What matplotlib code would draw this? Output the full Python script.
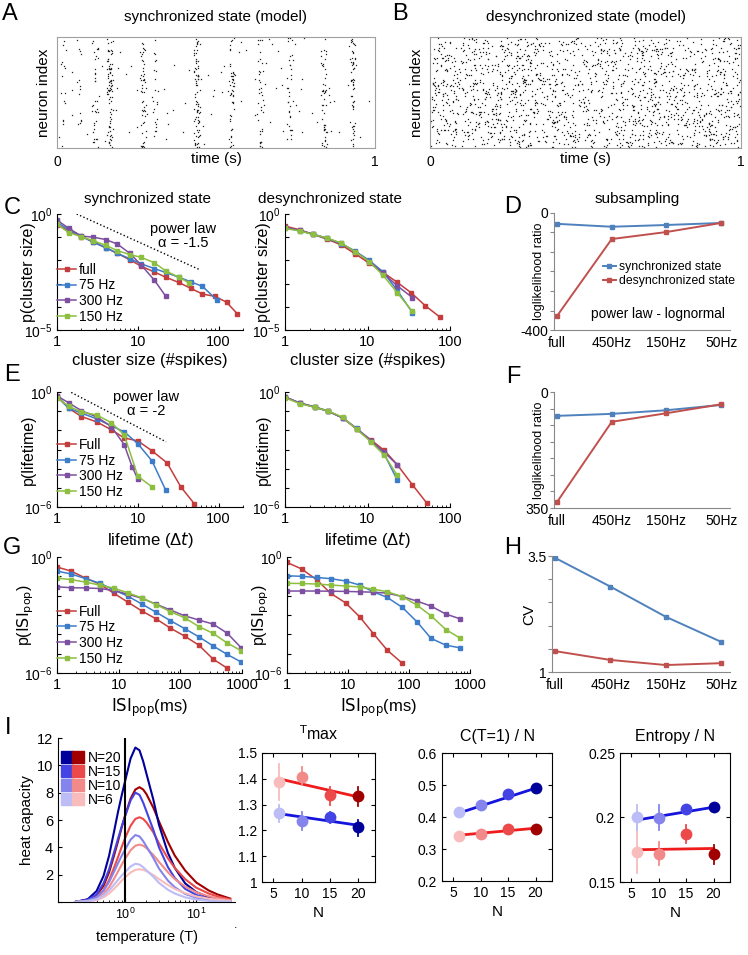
import numpy as np
import matplotlib
matplotlib.use("Agg")
import matplotlib.pyplot as plt
from matplotlib.lines import Line2D
from matplotlib.legend_handler import HandlerTuple
from matplotlib.ticker import FixedLocator, NullLocator

plt.rcParams['font.family'] = ['Liberation Sans', 'DejaVu Sans']
plt.rcParams['mathtext.default'] = 'regular'
plt.rcParams['font.size'] = 9
plt.rcParams['xtick.direction'] = 'in'
plt.rcParams['ytick.direction'] = 'in'

W, H = 748, 955

# ---------------- data ----------------
# raster (A): burst times (s) and approximate spike counts per burst
sync_burst_t = [0.02, 0.07, 0.12, 0.167, 0.27, 0.31, 0.44, 0.55, 0.64, 0.73, 0.84, 0.93]
sync_burst_n = [15, 12, 30, 80, 50, 20, 75, 45, 35, 30, 45, 55]
sync_background_n = 110
desync_n = 1700
n_neurons = 100

labels_ss = ["full", "75 Hz", "300 Hz", "150 Hz"]
labels_ss2 = ["Full", "75 Hz", "300 Hz", "150 Hz"]

# C: cluster size distributions, values as log10(p)
cs_x_full = [1, 1.4, 2, 2.8, 4, 5.6, 8, 11, 16, 22, 32, 45, 63, 90, 125, 170]
cs_lp_full = [-0.47, -0.72, -0.97, -1.2, -1.45, -1.7, -1.98, -2.25, -2.5, -2.72,
              -2.95, -3.2, -3.45, -3.55, -3.8, -4.3]
cs_x_75 = [1, 1.4, 2, 2.8, 4, 5.6, 8, 11, 16, 22, 32, 45, 63, 95]
cs_lp_75 = [-0.36, -0.68, -0.95, -1.22, -1.45, -1.7, -1.93, -2.15, -2.35, -2.52,
            -2.72, -2.92, -3.12, -3.7]
cs_x_300 = [1, 1.4, 2, 2.8, 4, 5.6, 8, 11, 16, 22]
cs_lp_300 = [-0.26, -0.62, -0.95, -1.0, -1.1, -1.3, -1.7, -2.2, -2.85, -3.53]
cs_x_150 = [1, 1.4, 2, 2.8, 4, 5.6, 8, 11, 16, 22, 32, 43]
cs_lp_150 = [-0.45, -0.8, -0.98, -1.15, -1.35, -1.58, -1.75, -1.87, -2.1, -2.45,
             -2.72, -2.97]

cd_x_full = [1, 1.5, 2.2, 3.2, 4.8, 7.1, 10.5, 15.5, 23, 34, 50, 76]
cd_lp_full = [-0.52, -0.68, -0.88, -1.08, -1.33, -1.72, -2.12, -2.52, -2.95, -3.4, -3.95, -4.45]
cd_x_sub = [1, 1.5, 2.2, 3.2, 4.8, 7.1, 10.5, 15.5, 23, 35]
cd_lp_75 = [-0.6, -0.72, -0.88, -1.05, -1.28, -1.6, -2.0, -2.5, -3.3, -4.25]
cd_lp_300 = [-0.58, -0.7, -0.87, -1.04, -1.27, -1.62, -2.05, -2.55, -3.1, -3.6]
cd_lp_150 = [-0.62, -0.73, -0.88, -1.03, -1.25, -1.62, -2.05, -2.65, -3.4, -4.2]

# E: lifetime distributions, log10(p)
el_x_full = [1, 1.4, 2, 3.1, 4.7, 6.8, 10, 15, 23, 34, 50]
el_lp_full = [-0.2, -0.85, -1.28, -1.56, -1.97, -2.4, -2.55, -3.07, -3.7, -4.95, -5.83]
el_x_75 = [1, 1.4, 2, 3.1, 4.7, 6.8, 10, 15, 22]
el_lp_75 = [-0.25, -0.85, -1.1, -1.4, -1.77, -2.08, -2.7, -3.6, -5.1]
el_x_300 = [1, 1.4, 2, 3.1, 4.7, 6.8, 8.5, 10]
el_lp_300 = [-0.2, -0.57, -0.97, -1.3, -1.8, -2.76, -3.9, -4.55]
el_x_150 = [1, 1.4, 2, 3.1, 4.7, 6.8, 10, 15]
el_lp_150 = [-0.3, -0.75, -1.04, -1.2, -1.6, -2.24, -4.4, -4.95]

er_x_full = [1, 1.5, 2.3, 3.3, 5, 7.4, 11, 16, 23, 35, 52]
er_lp_full = [-0.26, -0.57, -0.78, -0.99, -1.35, -1.93, -2.5, -3.05, -3.8, -4.84, -5.78]
er_x_sub = [1, 1.5, 2.3, 3.3, 5, 7.4, 11, 16, 23]
er_lp_75 = [-0.26, -0.57, -0.78, -0.99, -1.35, -1.9, -2.55, -3.25, -4.6]
er_lp_300 = [-0.26, -0.57, -0.8, -1.0, -1.35, -1.92, -2.55, -3.15, -3.8]
er_lp_150 = [-0.3, -0.6, -0.8, -0.98, -1.32, -1.95, -2.6, -3.3, -4.35]

# G: population ISI distributions, log10(p)
gl_x = [1, 1.7, 2.9, 4.9, 8.3, 14, 24, 41, 69, 117, 200, 340, 575, 980]
gl_lp_full = [-0.52, -0.73, -1.09, -1.4, -1.87, -2.33, -2.8, -3.21, -3.68, -4.09,
              -4.56, -5.28, -5.75]
gl_lp_75 = [-0.73, -0.88, -1.12, -1.35, -1.7, -2.02, -2.44, -2.87, -3.29, -3.7,
            -4.13, -4.6, -5.04, -5.44]
gl_lp_300 = [-1.54, -1.59, -1.6, -1.63, -1.73, -1.92, -2.14, -2.45, -2.74, -3.04,
             -3.26, -3.47, -3.94, -4.71]
gl_lp_150 = [-1.09, -1.17, -1.3, -1.45, -1.61, -1.85, -2.12, -2.47, -2.83, -3.14,
             -3.6, -3.95, -4.45, -4.85]

gr_x = [1, 1.74, 3.1, 5.2, 9.1, 15.5, 26, 44, 78, 135, 230, 400, 690]
gr_lp_full = [-0.28, -0.62, -1.19, -1.88, -2.37, -3.09, -3.96, -4.82, -5.5]
gr_lp_75 = [-0.97, -1.0, -1.06, -1.12, -1.24, -1.45, -1.8, -2.09, -2.61, -3.35,
            -4.21, -4.56, -4.7]
gr_lp_300 = [-1.76, -1.76, -1.76, -1.77, -1.78, -1.8, -1.82, -1.87, -2.05, -2.28,
             -2.54, -2.95, -3.2]
gr_lp_150 = [-1.36, -1.37, -1.4, -1.45, -1.5, -1.55, -1.66, -1.8, -2.05, -2.49,
             -3.04, -3.75, -4.2]

# D, F, H: subsampling
sub_labels = ["full", "450Hz", "150Hz", "50Hz"]
d_sync = [-37, -47, -41, -34]
d_desync = [-352, -89, -65, -34]
f_sync = [-72, -66, -55, -39]
f_desync = [-332, -90, -64, -37]
h_sync = [3.46, 2.84, 2.19, 1.65]
h_desync = [1.45, 1.26, 1.15, 1.19]

# I: heat capacity curves
temp = [0.2, 0.3, 0.4, 0.5, 0.6, 0.7, 0.8, 0.9, 1.0, 1.2, 1.4, 1.6, 1.8, 2.0,
        2.5, 3.0, 4.0, 5.0, 7.0, 10, 15, 20, 30]
hc_blue = {
    20: [0, 0.2, 0.8, 1.9, 3.4, 5.1, 6.6, 7.8, 8.8, 10.5, 11.3, 11.1, 10.3, 9.4,
         7.5, 5.65, 3.6, 2.5, 1.36, 0.73, 0.34, 0.2, 0.09],
    15: [0, 0.16, 0.56, 1.36, 2.4, 3.6, 4.64, 5.52, 6.24, 7.44, 8.0, 7.84, 7.28, 6.64,
         5.28, 4.0, 2.56, 1.76, 0.96, 0.52, 0.24, 0.14, 0.06],
    10: [0, 0.1, 0.34, 0.83, 1.47, 2.2, 2.84, 3.38, 3.82, 4.56, 4.9, 4.8, 4.46, 4.07,
         3.23, 2.45, 1.57, 1.08, 0.59, 0.32, 0.15, 0.09, 0.04],
    6: [0, 0.06, 0.2, 0.48, 0.84, 1.26, 1.62, 1.93, 2.18, 2.6, 2.8, 2.74, 2.55, 2.32,
        1.85, 1.4, 0.9, 0.62, 0.34, 0.18, 0.08, 0.05, 0.02],
}
hc_red = {
    20: [0, 0.17, 0.5, 1.18, 2.18, 3.36, 4.45, 5.46, 6.3, 7.56, 8.23, 8.4, 8.23, 7.9,
         6.9, 5.9, 4.4, 3.4, 2.3, 1.43, 0.84, 0.55, 0.25],
    15: [0, 0.12, 0.37, 0.87, 1.61, 2.48, 3.29, 4.03, 4.65, 5.58, 6.08, 6.2, 6.08, 5.83,
         5.1, 4.3, 3.2, 2.5, 1.67, 1.05, 0.62, 0.4, 0.19],
    10: [0, 0.08, 0.25, 0.59, 1.09, 1.68, 2.23, 2.73, 3.15, 3.78, 4.12, 4.2, 4.12, 3.95,
         3.44, 2.94, 2.18, 1.68, 1.13, 0.71, 0.42, 0.27, 0.13],
    6: [0, 0.05, 0.14, 0.34, 0.62, 0.96, 1.27, 1.56, 1.8, 2.16, 2.35, 2.4, 2.35, 2.26,
        1.97, 1.68, 1.25, 0.96, 0.65, 0.41, 0.24, 0.16, 0.07],
}

n_sizes = [6, 10, 15, 20]
tmax_red = [1.388, 1.407, 1.337, 1.333]
tmax_red_lo = [1.318, 1.376, 1.30, 1.295]
tmax_red_hi = [1.457, 1.446, 1.37, 1.37]
tmax_blue = [1.267, 1.236, 1.252, 1.213]
tmax_blue_lo = [1.232, 1.20, 1.23, 1.18]
tmax_blue_hi = [1.30, 1.27, 1.27, 1.24]
tmax_fit_red = [1.40, 1.33]
tmax_fit_blue = [1.265, 1.22]

c1_blue = [0.415, 0.437, 0.472, 0.49]
c1_red = [0.341, 0.347, 0.363, 0.363]
c1_fit_blue = [0.412, 0.49]
c1_fit_red = [0.343, 0.365]

ent_blue = [0.2, 0.1996, 0.2066, 0.208]
ent_blue_lo = [0.19, 0.19, 0.203, 0.205]
ent_blue_hi = [0.21, 0.21, 0.21, 0.211]
ent_red = [0.173, 0.172, 0.187, 0.172]
ent_red_lo = [0.157, 0.163, 0.18, 0.164]
ent_red_hi = [0.2, 0.181, 0.194, 0.179]
ent_fit_blue = [0.198, 0.208]
ent_fit_red = [0.175, 0.176]

# ---------------- styles ----------------
c_red = "#c43c3c"
c_blue = "#3d7cc9"
c_purple = "#7d4fa0"
c_green = "#8cbf3f"
x_blue = "#4f81bd"
x_red = "#c0504d"
blue_shades = {20: "#00009a", 15: "#4444e4", 10: "#8484ec", 6: "#bcbcf6"}
red_shades = {20: "#a00000", 15: "#ec4a4a", 10: "#f28a8a", 6: "#f8bcbc"}

fig = plt.figure(figsize=(W / 100, H / 100), dpi=100)


def add_ax(x0, y0, x1, y1):
    return fig.add_axes([x0 / W, 1 - y1 / H, (x1 - x0) / W, (y1 - y0) / H])


def ftext(x, y, s, **kw):
    kw.setdefault("ha", "center")
    kw.setdefault("va", "center")
    fig.text(x / W, 1 - y / H, s, **kw)


def texture(n, seed):
    # deterministic scatter used only for the raster dot texture
    k = np.arange(n) + 1.0
    return np.modf(np.abs(np.sin(k * 12.9898 + seed * 78.233)) * 43758.5453)[0]


def raster(ax, t, idx):
    ax.plot(t, idx, "s", color="#222222", ms=0.9, mew=0)
    ax.set_xlim(0, 1)
    ax.set_ylim(0, 1)
    ax.set_xticks([0, 1])
    ax.set_xticklabels(["0", "1"], fontsize=10)
    ax.set_yticks([])
    ax.tick_params(length=0, pad=5)
    for sp in ax.spines.values():
        sp.set_color("#a0a0a0")
    ax.set_ylabel("neuron index", fontsize=11, labelpad=4)
    ax.set_xlabel("time (s)", fontsize=11, labelpad=-12)


def log_panel(ax, series, xmax, ymin_exp, xlabel, ylabel, ylab_x):
    for x, lp, col, lab in series:
        ax.plot(x, 10.0 ** np.array(lp), "-s", color=col, lw=1.1, ms=2.3, label=lab)
    ax.set_xscale("log")
    ax.set_yscale("log")
    ax.set_xlim(1, xmax)
    ax.set_ylim(10.0 ** ymin_exp, 1)
    ax.yaxis.set_major_locator(FixedLocator([10.0 ** e for e in range(ymin_exp, 1)]))
    ax.yaxis.set_minor_locator(NullLocator())
    ylabs = ["$10^{%d}$" % ymin_exp] + [""] * (-ymin_exp - 1) + ["$10^{0}$"]
    ax.set_yticklabels(ylabs)
    xt = [v for v in [1, 10, 100, 1000] if v <= xmax]
    ax.xaxis.set_major_locator(FixedLocator(xt))
    ax.set_xticklabels([str(v) for v in xt], fontsize=10.5)
    ax.tick_params(axis="y", labelsize=10)
    ax.tick_params(which="major", length=3)
    ax.tick_params(which="minor", length=1.5)
    ax.spines["top"].set_visible(False)
    ax.spines["right"].set_visible(False)
    ax.set_xlabel(xlabel, fontsize=12, labelpad=3)
    ax.set_ylabel(ylabel, fontsize=11.5)
    ax.yaxis.set_label_coords(ylab_x, 0.5)


def sub_panel(ax, sync, desync, ylim, yticks, ylabs, ylabel):
    xs = np.arange(1, len(sub_labels) + 1)
    ax.plot(xs, sync, "-s", color=x_blue, lw=1.4, ms=3.5, label="synchronized state")
    ax.plot(xs, desync, "-s", color=x_red, lw=1.4, ms=3.5, label="desynchronized state")
    ax.set_xlim(0.945, 4.16)
    ax.set_ylim(*ylim)
    ax.set_xticks(xs)
    ax.set_xticklabels(sub_labels, fontsize=10)
    ax.tick_params(axis="x", length=0, pad=4)
    ax.set_yticks(yticks)
    ax.set_yticklabels(ylabs, fontsize=10)
    ax.tick_params(axis="y", direction="out", length=3, color="#888888", pad=1)
    ax.spines["top"].set_visible(False)
    ax.spines["right"].set_visible(False)
    ax.spines["left"].set_color("#888888")
    ax.spines["bottom"].set_color("#888888")
    if ylabel:
        ax.set_ylabel(ylabel, fontsize=9)
        ax.yaxis.set_label_coords(-0.05, 0.5)


# ---------------- A / B rasters ----------------
axA = add_ax(57, 37, 375, 148)
t_list, i_list = [], []
for k, (t0, n) in enumerate(zip(sync_burst_t, sync_burst_n)):
    u = texture(n, 2 * k + 1) - texture(n, 2 * k + 2)
    v = np.floor(texture(n, 50 + k) * n_neurons) / n_neurons
    t_list.append(t0 + 0.012 * u)
    i_list.append(v)
t_list.append(texture(sync_background_n, 97))
i_list.append(np.floor(texture(sync_background_n, 98) * n_neurons) / n_neurons)
raster(axA, np.concatenate(t_list), np.concatenate(i_list) + 0.005)

axB = add_ax(430, 37, 741, 148)
raster(axB, texture(desync_n, 3.3),
       np.floor(texture(desync_n, 4.7) * n_neurons) / n_neurons + 0.005)

ftext(10, 14, "A", fontsize=17)
ftext(400, 14, "B", fontsize=17)
ftext(216, 17, "synchronized state (model)", fontsize=11)
ftext(586, 17, "desynchronized state (model)", fontsize=11)

# ---------------- C ----------------
axC1 = add_ax(57, 214, 243, 330)
log_panel(axC1, [(cs_x_full, cs_lp_full, c_red, labels_ss[0]),
                 (cs_x_75, cs_lp_75, c_blue, labels_ss[1]),
                 (cs_x_300, cs_lp_300, c_purple, labels_ss[2]),
                 (cs_x_150, cs_lp_150, c_green, labels_ss[3])],
          200, -5, "cluster size (#spikes)", "p(cluster size)", -0.113)
axC1.plot([1.75, 59], [1.0, 0.0039], ":", color="k", lw=1.0)
axC1.text(0.68, 0.87, "power law", transform=axC1.transAxes, ha="center", va="center",
          fontsize=10.5)
axC1.text(0.68, 0.75, "\u03b1 = -1.5", transform=axC1.transAxes, ha="center",
          va="center", fontsize=10.5)
axC1.legend(loc="upper left", bbox_to_anchor=(0.0, 0.58), frameon=False, fontsize=10,
            handlelength=1.4, handletextpad=0.2, labelspacing=0.12, borderaxespad=0,
            borderpad=0)

axC2 = add_ax(285, 214, 450, 330)
log_panel(axC2, [(cd_x_full, cd_lp_full, c_red, labels_ss[0]),
                 (cd_x_sub, cd_lp_75, c_blue, labels_ss[1]),
                 (cd_x_sub, cd_lp_300, c_purple, labels_ss[2]),
                 (cd_x_sub, cd_lp_150, c_green, labels_ss[3])],
          100, -5, "cluster size (#spikes)", "p(cluster size)", -0.085)

ftext(12, 208, "C", fontsize=17)
ftext(148, 199, "synchronized state", fontsize=11)
ftext(330, 199, "desynchronized state", fontsize=11)

# ---------------- D ----------------
axD = add_ax(554, 213, 730, 330)
sub_panel(axD, d_sync, d_desync, (-400, 0), np.linspace(-400, 0, 7),
          ["-400", "", "", "", "", "", "0"], "loglikelihood ratio")
axD.legend(loc="upper left", bbox_to_anchor=(0.28, 0.59), frameon=False, fontsize=8.8,
           handlelength=1.0, handletextpad=0.3, labelspacing=0.2, borderaxespad=0,
           borderpad=0)
axD.text(0.59, 0.137, "power law - lognormal", transform=axD.transAxes, ha="center",
         va="center", fontsize=9.8)
ftext(513, 207, "D", fontsize=17)
ftext(637, 199, "subsampling", fontsize=11)

# ---------------- E ----------------
lt_label = r"lifetime ($\Delta\mathit{t}$)"
axE1 = add_ax(57, 392, 243, 507)
log_panel(axE1, [(el_x_full, el_lp_full, c_red, labels_ss2[0]),
                 (el_x_75, el_lp_75, c_blue, labels_ss2[1]),
                 (el_x_300, el_lp_300, c_purple, labels_ss2[2]),
                 (el_x_150, el_lp_150, c_green, labels_ss2[3])],
          200, -6, lt_label, "p(lifetime)", -0.113)
axE1.plot([1.5, 22.4], [0.95, 0.0025], ":", color="k", lw=1.0)
axE1.text(0.48, 0.955, "power law", transform=axE1.transAxes, ha="center", va="center",
          fontsize=10.5)
axE1.text(0.48, 0.835, "\u03b1 = -2", transform=axE1.transAxes, ha="center",
          va="center", fontsize=10.5)
axE1.legend(loc="upper left", bbox_to_anchor=(0.0, 0.6), frameon=False, fontsize=10,
            handlelength=1.4, handletextpad=0.2, labelspacing=0.12, borderaxespad=0,
            borderpad=0)

axE2 = add_ax(285, 392, 450, 507)
log_panel(axE2, [(er_x_full, er_lp_full, c_red, labels_ss2[0]),
                 (er_x_sub, er_lp_75, c_blue, labels_ss2[1]),
                 (er_x_sub, er_lp_300, c_purple, labels_ss2[2]),
                 (er_x_sub, er_lp_150, c_green, labels_ss2[3])],
          100, -6, lt_label, "p(lifetime)", -0.085)
ftext(12, 375, "E", fontsize=17)

# ---------------- F ----------------
axF = add_ax(554, 392, 730, 508)
sub_panel(axF, f_sync, f_desync, (-350, 0), np.arange(-350, 1, 50),
          ["350", "", "", "", "", "", "", "0"], "loglikelihood ratio")
ftext(513, 377, "F", fontsize=17)

# ---------------- G ----------------
isi_label = r"$\mathrm{ISI}_{\mathrm{pop}}$(ms)"
isi_ylabel = r"p($\mathrm{ISI}_{\mathrm{pop}}$)"
axG1 = add_ax(57, 557, 242, 673)
log_panel(axG1, [(gl_x[:len(gl_lp_full)], gl_lp_full, c_red, labels_ss2[0]),
                 (gl_x, gl_lp_75, c_blue, labels_ss2[1]),
                 (gl_x, gl_lp_300, c_purple, labels_ss2[2]),
                 (gl_x, gl_lp_150, c_green, labels_ss2[3])],
          1000, -6, isi_label, isi_ylabel, -0.113)
axG1.legend(loc="upper left", bbox_to_anchor=(0.0, 0.59), frameon=False, fontsize=10,
            handlelength=1.4, handletextpad=0.2, labelspacing=0.12, borderaxespad=0,
            borderpad=0)

axG2 = add_ax(287, 557, 470, 673)
log_panel(axG2, [(gr_x[:len(gr_lp_full)], gr_lp_full, c_red, labels_ss2[0]),
                 (gr_x, gr_lp_75, c_blue, labels_ss2[1]),
                 (gr_x, gr_lp_300, c_purple, labels_ss2[2]),
                 (gr_x, gr_lp_150, c_green, labels_ss2[3])],
          1000, -6, isi_label, isi_ylabel, -0.087)
ftext(12, 548, "G", fontsize=17)

# ---------------- H ----------------
axH = add_ax(552, 556, 730, 672)
sub_panel(axH, h_sync, h_desync, (1, 3.5), np.arange(1, 3.51, 0.5),
          ["1", "", "", "", "", "3.5"], "")
axH.set_ylabel("CV", fontsize=11)
axH.yaxis.set_label_coords(-0.09, 0.5)
ftext(513, 548, "H", fontsize=17)

# ---------------- I: heat capacity ----------------
axI = add_ax(58, 738, 235, 902)
for n in n_sizes[::-1]:
    axI.plot(temp, hc_red[n], color=red_shades[n], lw=1.5)
    axI.plot(temp, hc_blue[n], color=blue_shades[n], lw=1.5)
axI.axvline(1.0, color="k", lw=1.5)
axI.set_xscale("log")
axI.set_xlim(0.115, 35)
axI.set_ylim(0, 12)
axI.set_yticks(np.arange(0, 13, 2))
axI.set_yticklabels(["", "2", "4", "6", "8", "10", "12"], fontsize=10.5)
axI.xaxis.set_major_locator(FixedLocator([1, 10]))
axI.set_xticklabels(["$10^{0}$", "$10^{1}$"], fontsize=9)
axI.tick_params(which="major", length=3)
axI.tick_params(which="minor", length=1.5)
axI.spines["top"].set_visible(False)
axI.spines["right"].set_visible(False)
axI.set_xlabel("temperature (T)", fontsize=10.5, labelpad=6)
axI.set_ylabel("heat capacity", fontsize=11)
axI.yaxis.set_label_coords(-0.136, 0.5)
handles = []
for n in n_sizes[::-1]:
    hb = Line2D([], [], ls="none", marker="s", ms=8, color=blue_shades[n])
    hr = Line2D([], [], ls="none", marker="s", ms=8, color=red_shades[n])
    handles.append((hb, hr))
axI.legend(handles, ["N=%d" % n for n in n_sizes[::-1]],
           handler_map={tuple: HandlerTuple(ndivide=None, pad=0.0)},
           loc="upper left", bbox_to_anchor=(0.02, 0.92), frameon=False, fontsize=10,
           handlelength=1.6, handletextpad=0.3, labelspacing=0.0, borderaxespad=0,
           borderpad=0)
ftext(8, 728, "I", fontsize=17)
ftext(236, 925, ".", fontsize=9)


def small_panel(ax, title, ylim, yticks, ylabs):
    ax.set_xlim(3, 23)
    ax.set_ylim(*ylim)
    ax.set_xticks([5, 10, 15, 20])
    ax.set_xticklabels(["5", "10", "15", "20"], fontsize=10)
    ax.set_yticks(yticks)
    ax.set_yticklabels(ylabs, fontsize=10)
    ax.tick_params(top=True, right=True, length=3)
    ax.set_xlabel("N", fontsize=11, labelpad=4)
    ax.set_title(title, fontsize=11.5, pad=9)


def small_series(ax, vals, lo, hi, fit, shades, fitcol):
    ax.plot([n_sizes[0], n_sizes[-1]], fit, "-", color=fitcol, lw=2, zorder=2)
    for i, n in enumerate(n_sizes):
        if lo is not None:
            ax.plot([n, n], [lo[i], hi[i]], "-", color=shades[n], lw=1.3, zorder=2)
        ax.plot(n, vals[i], "o", color=shades[n], ms=8.5, mew=0, zorder=3)


ax1 = add_ax(262, 753, 375, 882)
small_panel(ax1, r"$^{\mathrm{T}}$max", (1, 1.5), np.arange(1, 1.51, 0.1),
            ["1", "1.1", "1.2", "1.3", "1.4", "1.5"])
small_series(ax1, tmax_red, tmax_red_lo, tmax_red_hi, tmax_fit_red, red_shades, "#ee1c1c")
small_series(ax1, tmax_blue, tmax_blue_lo, tmax_blue_hi, tmax_fit_blue, blue_shades, "#1414dc")

ax2 = add_ax(442, 753, 552, 881)
small_panel(ax2, "C(T=1) / N", (0.2, 0.6), np.arange(0.2, 0.61, 0.1),
            ["0.2", "0.3", "0.4", "0.5", "0.6"])
small_series(ax2, c1_red, None, None, c1_fit_red, red_shades, "#ee1c1c")
small_series(ax2, c1_blue, None, None, c1_fit_blue, blue_shades, "#1414dc")

ax3 = add_ax(620, 753, 730, 882)
small_panel(ax3, "Entropy / N", (0.15, 0.25), [0.15, 0.2, 0.25],
            ["0.15", "0.2", "0.25"])
small_series(ax3, ent_red, ent_red_lo, ent_red_hi, ent_fit_red, red_shades, "#ee1c1c")
small_series(ax3, ent_blue, ent_blue_lo, ent_blue_hi, ent_fit_blue, blue_shades, "#1414dc")

fig.savefig("out.png", dpi=100)
